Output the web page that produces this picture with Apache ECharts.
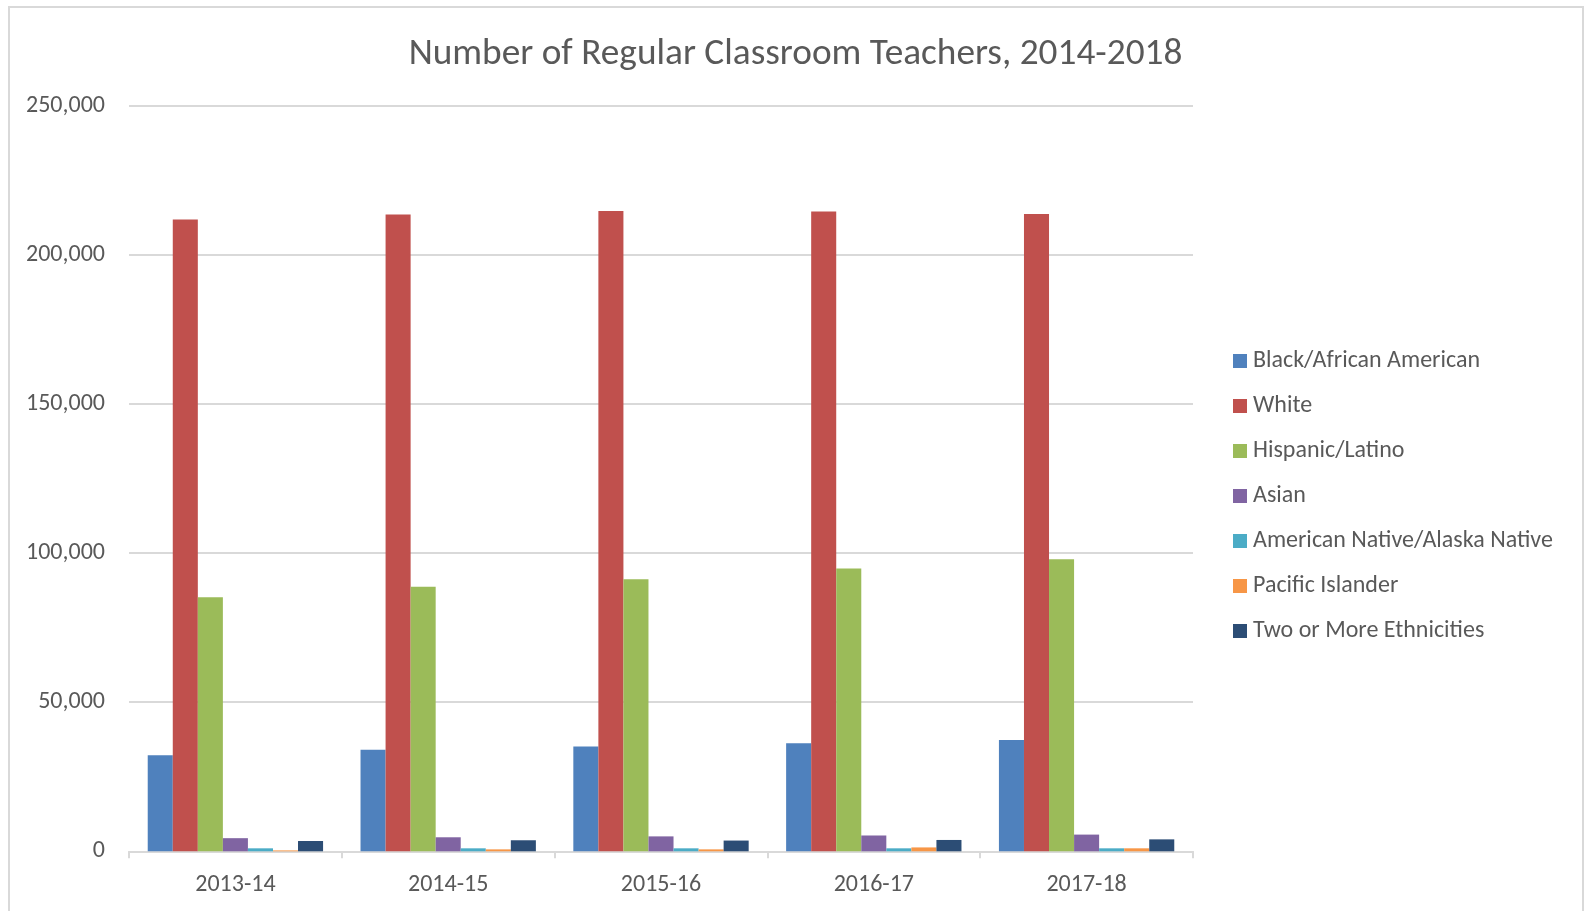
<!DOCTYPE html>
<html>
<head>
<meta charset="utf-8">
<style>
  html, body { margin: 0; padding: 0; background: #ffffff; }
  #chart { width: 1591px; height: 911px; }
</style>
<script src="https://cdn.jsdelivr.net/npm/echarts@6/dist/echarts.min.js"></script>
</head>
<body>
<div id="chart"></div>
<script>
const categories = ['2013-14', '2014-15', '2015-16', '2016-17', '2017-18'];
const seriesNames = ['Black/African American', 'White', 'Hispanic/Latino', 'Asian',
  'American Native/Alaska Native', 'Pacific Islander', 'Two or More Ethnicities'];
const black    = [32200, 34000, 35100, 36200, 37300];
const white    = [211800, 213500, 214600, 214500, 213600];
const hispanic = [85200, 88700, 91200, 94800, 97900];
const asian    = [4400, 4700, 5000, 5300, 5600];
const native   = [1000, 1000, 1000, 1000, 1000];
const pacific  = [300, 650, 650, 1300, 1000];
const twoMore  = [3450, 3700, 3600, 3800, 4000];
const yTicks   = [0, 50000, 100000, 150000, 200000, 250000];
const colors = ['#4F81BD', '#C0504D', '#9BBB59', '#8064A2', '#4BACC6', '#F79646', '#2C4D75'];
const seriesData = [black, white, hispanic, asian, native, pacific, twoMore];

const FONT = 'Carlito, Lato, "Noto Sans", sans-serif';
const TXT = '#595959';

const chart = echarts.init(document.getElementById('chart'), null, { renderer: 'canvas' });
chart.setOption({
  animation: false,
  backgroundColor: '#ffffff',
  color: colors,
  title: {
    text: 'Number of Regular Classroom Teachers, 2014-2018',
    left: 'center',
    top: 28,
    textStyle: { fontFamily: FONT, fontSize: 37.3, fontWeight: 'normal', color: TXT, lineHeight: 44 }
  },
  graphic: [{
    type: 'rect',
    shape: { x: 9, y: 7, width: 1574, height: 920 },
    style: { fill: 'none', stroke: '#D9D9D9', lineWidth: 2 },
    silent: true, z: -1
  }],
  legend: {
    orient: 'vertical',
    left: 1228,
    top: 344,
    itemWidth: 14,
    itemHeight: 14,
    itemGap: 21,
    icon: 'rect',
    data: seriesNames,
    textStyle: { fontFamily: FONT, fontSize: 24, color: TXT, lineHeight: 24, padding: [0, 0, 0, 1] }
  },
  grid: {
    left: 129, right: 398, top: 105.5, bottom: 59.7,
    containLabel: false, outerBoundsMode: 'none'
  },
  xAxis: {
    type: 'category',
    data: categories,
    axisLine: { show: true, lineStyle: { color: '#D9D9D9', width: 2 } },
    axisTick: { show: true, length: 7, lineStyle: { color: '#D9D9D9', width: 2 } },
    axisLabel: { fontFamily: FONT, fontSize: 24, color: TXT, margin: 22, lineHeight: 24 },
    splitLine: { show: false }
  },
  yAxis: {
    type: 'value',
    min: yTicks[0],
    max: yTicks[yTicks.length - 1],
    interval: yTicks[1] - yTicks[0],
    axisLine: { show: false },
    axisTick: { show: false },
    axisLabel: {
      fontFamily: FONT, fontSize: 24, color: TXT, margin: 24,
      formatter: v => v.toLocaleString('en-US')
    },
    splitLine: { show: true, lineStyle: { color: '#D9D9D9', width: 2 } }
  },
  series: seriesNames.map((name, i) => ({
    name: name,
    type: 'bar',
    data: seriesData[i],
    barGap: '0%',
    barCategoryGap: '17.6%',
    itemStyle: { color: colors[i] },
    emphasis: { disabled: true }
  }))
});
</script>
</body>
</html>
